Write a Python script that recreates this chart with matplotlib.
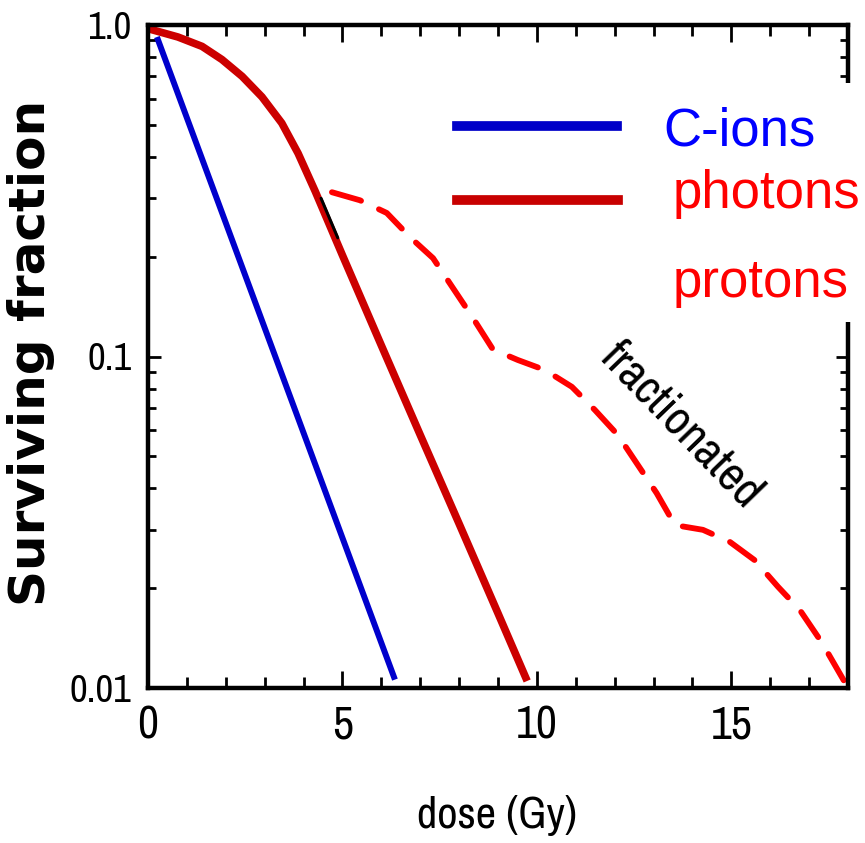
import os
import matplotlib
matplotlib.use("Agg")
import matplotlib.pyplot as plt
from matplotlib import font_manager
from matplotlib.font_manager import FontProperties
from matplotlib.patches import Rectangle
from matplotlib.lines import Line2D
from matplotlib.ticker import FixedLocator, NullFormatter

# data (dose in Gy, surviving fraction)
cions_dose = [0.23, 6.35]
cions_sf = [0.92, 0.0106]

photons_dose = [0, 0.18, 0.77, 1.39, 1.9, 2.42, 2.93, 3.44, 3.86, 4.3, 5, 6, 7, 8, 9, 9.75]
photons_sf = [0.975, 0.962, 0.92, 0.862, 0.787, 0.70, 0.607, 0.506, 0.41, 0.315,
              0.202, 0.108, 0.058, 0.0313, 0.0168, 0.0105]

protons_dose = [4.73, 5.45, 6.14, 6.74, 7.33, 7.84, 8.35, 8.87, 9.51, 10.21, 10.9,
                11.49, 12.08, 12.6, 13.08, 13.55, 14.27, 14.96, 15.6, 16.2, 16.76,
                17.33, 17.92]
protons_sf = [0.313, 0.296, 0.271, 0.229, 0.198, 0.161, 0.131, 0.105, 0.0976, 0.091,
              0.081, 0.069, 0.058, 0.047, 0.0387, 0.031, 0.030, 0.0276, 0.0243,
              0.0202, 0.0172, 0.0137, 0.0104]

# small black stroke along the edge of the photon curve
mark_dose = [4.45, 4.88]
mark_sf = [0.30, 0.228]

xticks = [0, 5, 10, 15]
xtick_labels = ["0", "5", "10", "15"]
yticks = [0.01, 0.1, 1.0]
ytick_labels = ["0.01", "0.1", "1.0"]


def narrow_font():
    # look for a narrow / condensed regular sans face
    best = None
    for f in font_manager.fontManager.ttflist:
        fn = os.path.basename(f.fname).lower()
        if not ("narrow" in fn or "condensed" in fn):
            continue
        if any(k in fn for k in ("bold", "italic", "oblique", "serif", "mono", "light",
                                 "thin", "black", "medium", "semi", "extra")):
            continue
        rank = 0 if "narrow" in fn else (1 if "dejavu" in fn else 2)
        if best is None or rank < best[0]:
            best = (rank, f.fname)
    return best[1] if best else None


nf = narrow_font()
if nf:
    def tfont(size):
        return FontProperties(fname=nf, size=size)
    xt, yt, xl, fr = 33, 28, 32, 35
else:
    def tfont(size):
        return FontProperties(family="Liberation Sans", size=size)
    xt, yt, xl, fr = 28, 24, 30, 34

W, H = 865, 843
fig = plt.figure(figsize=(W / 100, H / 100), dpi=100)
ax = fig.add_axes([148 / W, 1 - 688 / H, 700 / W, 663 / H])

ax.plot(cions_dose, cions_sf, color="#0000cc", lw=4.3, solid_capstyle="butt")
ax.plot(photons_dose, photons_sf, color="#cc0000", lw=5.5, solid_capstyle="butt",
        solid_joinstyle="round")
ax.plot(mark_dose, mark_sf, color="black", lw=2.2, solid_capstyle="round")
ax.plot(protons_dose, protons_sf, color="#ff0000", lw=4.2, dashes=(5.2, 3.4),
        dash_capstyle="round")

ax.set_yscale("log")
ax.set_xlim(0, 18)
ax.set_ylim(0.01, 1.0)

ax.xaxis.set_major_locator(FixedLocator(xticks))
ax.xaxis.set_minor_locator(FixedLocator(range(0, 19)))
ax.set_xticklabels(xtick_labels, fontproperties=tfont(xt))
ax.yaxis.set_major_locator(FixedLocator(yticks))
ax.set_yticklabels(ytick_labels, fontproperties=tfont(yt))
ax.yaxis.set_minor_formatter(NullFormatter())

ax.tick_params(which="both", direction="in", top=True, right=True, width=2, color="black")
ax.tick_params(axis="x", which="major", length=12, pad=12)
ax.tick_params(axis="x", which="minor", length=8)
ax.tick_params(axis="y", which="major", length=9, pad=12)
ax.tick_params(axis="y", which="minor", length=6)
for s in ax.spines.values():
    s.set_linewidth(3.2)

fig.text(31 / W, 1 - 353 / H, "Surviving fraction", rotation=90, ha="center", va="center",
         family="DejaVu Sans", fontweight="bold", fontsize=36)
fig.text(497 / W, 1 - 828 / H, "dose (Gy)", ha="center", va="baseline",
         fontproperties=tfont(xl))
fig.text(682 / W, 1 - 425 / H, "fractionated", rotation=-46, ha="center", va="center",
         fontproperties=tfont(fr))

# white patch behind the legend text, hiding part of the right frame
fig.add_artist(Rectangle((640 / W, 1 - 322 / H), 225 / W, 239 / H,
                         transform=fig.transFigure, facecolor="white",
                         edgecolor="none", zorder=5))

fig.add_artist(Line2D([457 / W, 617 / W], [1 - 126 / H, 1 - 126 / H],
                      transform=fig.transFigure, color="#0000c8", lw=7, zorder=6))
fig.add_artist(Line2D([457 / W, 618 / W], [1 - 200 / H, 1 - 200 / H],
                      transform=fig.transFigure, color="#c80000", lw=7, zorder=6))
fig.text(663 / W, 1 - 145 / H, "C-ions", color="#0000ff", family="Liberation Sans",
         fontsize=38, va="baseline", zorder=7)
fig.text(673 / W, 1 - 208 / H, "photons", color="#ff0000", family="Liberation Sans",
         fontsize=38, va="baseline", zorder=7)
fig.text(673 / W, 1 - 297 / H, "protons", color="#ff0000", family="Liberation Sans",
         fontsize=38, va="baseline", zorder=7)

fig.savefig("out.png", dpi=100)
